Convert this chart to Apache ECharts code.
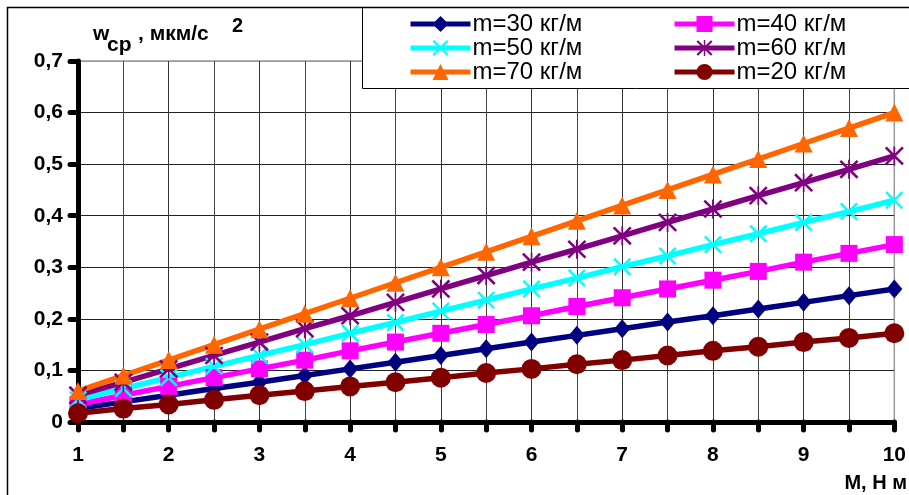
<!DOCTYPE html>
<html>
<head>
<meta charset="utf-8">
<script src="https://cdn.jsdelivr.net/npm/echarts@6/dist/echarts.min.js"></script>
<style>
	html, body { margin: 0; padding: 0; background: #fff; }
	#chart { width: 909px; height: 495px; }
</style>
</head>
<body>
<div id="chart"></div>
<script>
// M, Н м
var torque = [1, 1.5, 2, 2.5, 3, 3.5, 4, 4.5, 5, 5.5, 6, 6.5, 7, 7.5, 8, 8.5, 9, 9.5, 10];

var names = ['m=30 кг/м', 'm=40 кг/м', 'm=50 кг/м', 'm=60 кг/м', 'm=70 кг/м', 'm=20 кг/м'];

var m30 = [0.026, 0.039, 0.052, 0.065, 0.077, 0.090, 0.103, 0.116, 0.129, 0.142, 0.155, 0.168, 0.181, 0.194, 0.206, 0.219, 0.232, 0.245, 0.258];
var m40 = [0.034, 0.052, 0.069, 0.086, 0.103, 0.120, 0.138, 0.155, 0.172, 0.189, 0.206, 0.224, 0.241, 0.258, 0.275, 0.292, 0.310, 0.327, 0.344];
var m50 = [0.043, 0.065, 0.086, 0.108, 0.129, 0.150, 0.172, 0.193, 0.215, 0.236, 0.258, 0.279, 0.301, 0.322, 0.344, 0.365, 0.387, 0.408, 0.430];
var m60 = [0.052, 0.077, 0.103, 0.129, 0.155, 0.181, 0.206, 0.232, 0.258, 0.284, 0.310, 0.335, 0.361, 0.387, 0.413, 0.439, 0.464, 0.490, 0.516];
var m70 = [0.060, 0.090, 0.120, 0.150, 0.180, 0.210, 0.240, 0.270, 0.300, 0.330, 0.360, 0.390, 0.420, 0.450, 0.480, 0.510, 0.540, 0.570, 0.600];
var m20 = [0.017, 0.026, 0.034, 0.043, 0.052, 0.060, 0.069, 0.077, 0.086, 0.095, 0.103, 0.112, 0.120, 0.129, 0.138, 0.146, 0.155, 0.163, 0.172];

var colors = ['#000080', '#FF00FF', '#00FFFF', '#800080', '#FF6600', '#800000'];

var crossPath = 'path://M2.85,1.15L18.85,17.15L17.15,18.85L1.15,2.85Z M17.15,1.15L18.85,2.85L2.85,18.85L1.15,17.15Z';
var starPath = crossPath + ' M9.2,1L10.8,1L10.8,19L9.2,19Z';

var symbols = ['diamond', 'rect', crossPath, starPath, 'triangle', 'circle'];
var symbolSizes = [[16, 19], 17, 18, 19, 18, 20];

var font = 'Arial, "Liberation Sans", sans-serif';

function pairs(values) {
	let out = [];
	for (let i = 0; i < torque.length; i++) {
		out.push([torque[i], values[i]]);
	}
	return out;
}

var allData = [m30, m40, m50, m60, m70, m20];
var series = [];
for (let i = 0; i < names.length; i++) {
	series.push({
		name: names[i],
		type: 'line',
		data: pairs(allData[i]),
		symbol: symbols[i],
		symbolSize: symbolSizes[i],
		showAllSymbol: true,
		lineStyle: { color: colors[i], width: 5.5 },
		itemStyle: { color: colors[i], borderWidth: 0 },
		emphasis: { disabled: true },
		animation: false
	});
}

function legendBlock(left, idx) {
	let data = idx.map(i => ({
		name: names[i],
		lineStyle: { width: 5, color: colors[i] }
	}));
	return {
		orient: 'vertical',
		left: left,
		top: 12,
		itemWidth: 60,
		itemHeight: 20,
		itemGap: 0,
		padding: 0,
		data: data,
		selectedMode: false,
		textStyle: { fontFamily: font, fontSize: 24, color: '#000', lineHeight: 20, padding: [0, 0, 0, -3] }
	};
}

var chart = echarts.init(document.getElementById('chart'), null, { renderer: 'canvas' });
chart.setOption({
	backgroundColor: '#fff',
	animation: false,
	grid: {
		left: 78,
		right: 11,
		top: 61,
		bottom: 73,
		show: true,
		borderColor: '#999',
		borderWidth: 1.5
	},
	legend: [
		legendBlock(408, [0, 2, 4]),
		legendBlock(672, [1, 3, 5])
	],
	xAxis: {
		type: 'value',
		min: 1,
		max: 10,
		interval: 1,
		axisLine: { lineStyle: { color: '#000', width: 5, cap: 'round' } },
		axisTick: { show: true, length: 8, lineStyle: { color: '#000', width: 5, cap: 'round' } },
		minorTick: { show: true, splitNumber: 2, length: 8, lineStyle: { color: '#000', width: 5, cap: 'round' } },
		splitLine: { show: true, lineStyle: { color: ['#333', '#333', '#333', '#333', '#333', '#333', '#333', '#333', '#333', '#999'], width: 1 } },
		minorSplitLine: { show: true, lineStyle: { color: '#444', width: 1 } },
		axisLabel: { fontFamily: font, fontSize: 21, fontWeight: 'bold', color: '#000', margin: 23 }
	},
	yAxis: {
		type: 'value',
		min: 0,
		max: 0.7,
		interval: 0.1,
		axisLine: { show: true, lineStyle: { color: '#000', width: 5, cap: 'round' } },
		axisTick: { show: true, length: 8, lineStyle: { color: '#000', width: 5, cap: 'round' } },
		splitLine: { show: true, lineStyle: { color: ['#000', '#222', '#222', '#222', '#222', '#222', '#222', '#999'], width: 1 } },
		axisLabel: {
			fontFamily: font, fontSize: 21, fontWeight: 'bold', color: '#000', margin: 15,
			formatter: function (v) {
				if (v === 0) return '0';
				return v.toFixed(1).replace('.', ',');
			}
		}
	},
	graphic: [
		{
			type: 'rect', z: 3, silent: true,
			shape: { x: 362.5, y: 7.5, width: 560, height: 81 },
			style: { fill: '#fff', stroke: '#000', lineWidth: 1 }
		},
		{
			type: 'rect', z: 10, silent: true,
			shape: { x: 7.5, y: 7.5, width: 920, height: 500 },
			style: { fill: null, stroke: '#000', lineWidth: 1.5 }
		},
		{ type: 'text', z: 10, x: 93, y: 34, style: { text: 'w', font: 'bold 21px ' + font, fill: '#000', verticalAlign: 'middle' } },
		{ type: 'text', z: 10, x: 107, y: 45, style: { text: 'cp', font: 'bold 21px ' + font, fill: '#000', verticalAlign: 'middle' } },
		{ type: 'text', z: 10, x: 138, y: 34, style: { text: ', мкм/с', font: 'bold 21px ' + font, fill: '#000', verticalAlign: 'middle' } },
		{ type: 'text', z: 10, x: 232, y: 26, style: { text: '2', font: 'bold 20px ' + font, fill: '#000', verticalAlign: 'middle' } },
		{ type: 'text', z: 10, x: 907, y: 483, style: { text: 'M, Н м', font: 'bold 20px ' + font, fill: '#000', align: 'right', verticalAlign: 'middle' } }
	],
	series: series
});
</script>
</body>
</html>
